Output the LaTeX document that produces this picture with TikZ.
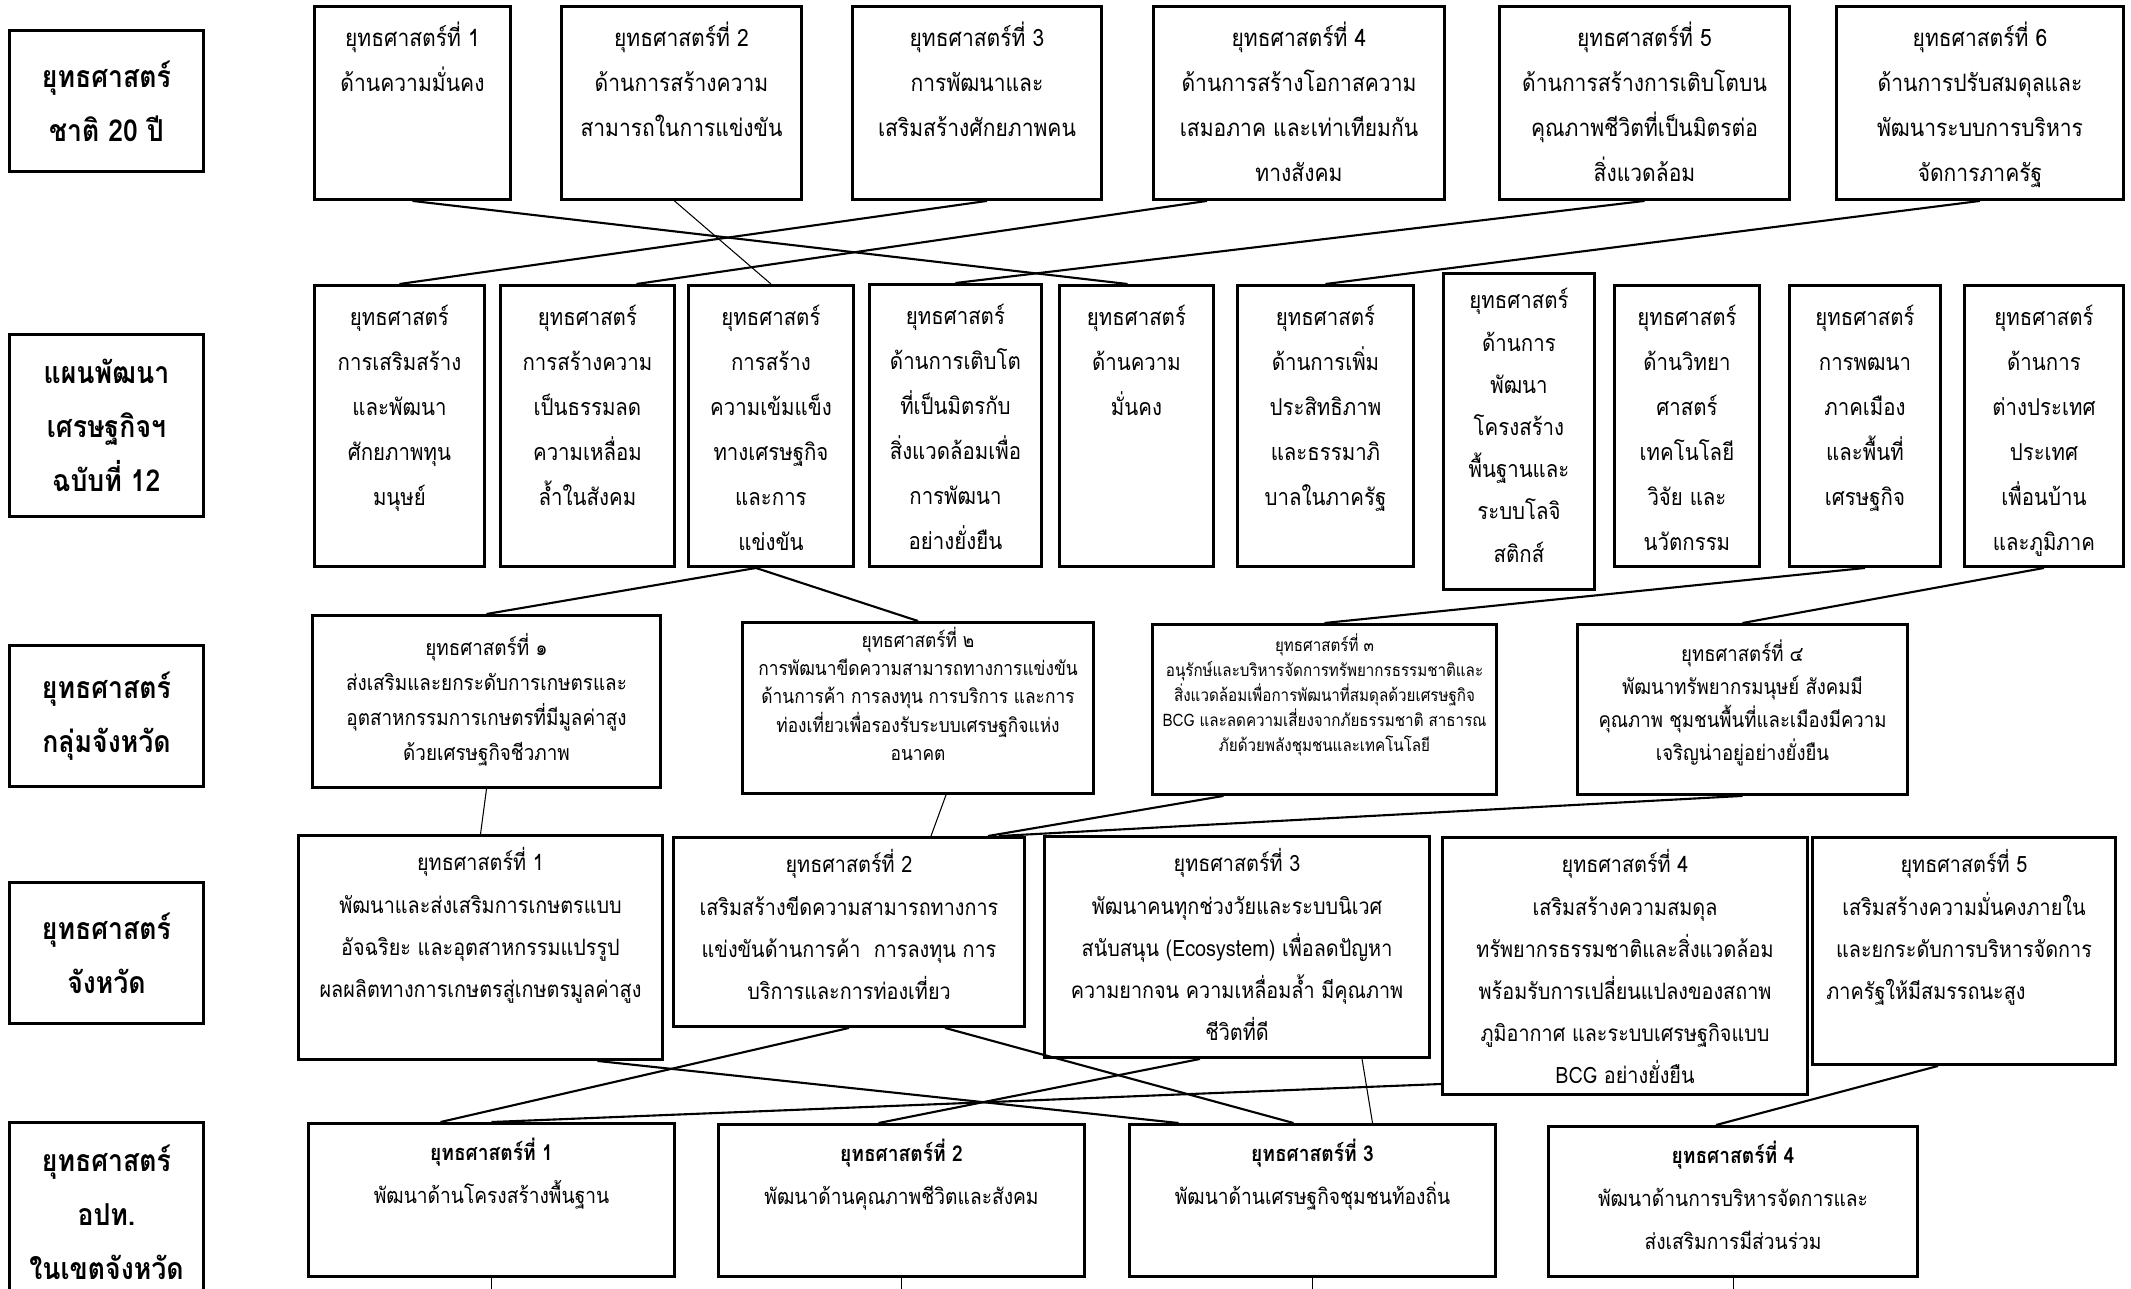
\documentclass[tikz,border=0pt]{standalone}
\usepackage{fontspec}
\setmainfont[Script=Thai, FakeStretch=0.88]{Loma}
\usetikzlibrary{positioning,calc}

% font sizes for each row
\newcommand{\labfont}{\fontsize{8.6}{15.3}\selectfont\bfseries}
\newcommand{\natfont}{\fontsize{6.8}{12.8}\selectfont}
\newcommand{\planfont}{\fontsize{6.6}{12.8}\selectfont}
\newcommand{\planfontb}{\fontsize{6.6}{12}\selectfont}
\newcommand{\grpfonta}{\fontsize{6.1}{10}\selectfont}
\newcommand{\grpfontb}{\fontsize{5.6}{8}\selectfont}
\newcommand{\grpfontc}{\fontsize{4.9}{7.1}\selectfont}
\newcommand{\grpfontd}{\fontsize{6.0}{9.4}\selectfont}
\newcommand{\provfont}{\fontsize{6.4}{12}\selectfont}
\newcommand{\locfont}{\fontsize{6.2}{12.2}\selectfont}

% box with text at the top: [pad]{width}{height}{font}{lines}
\newcommand{\topbox}[5][0.09cm]{\parbox[t][#3][t]{#2}{#4\centering\vspace*{#1}\strut#5}}

\tikzset{
  boxnode/.style={draw, line width=0.8pt, anchor=north west, inner sep=0pt},
  rowlabel/.style={draw, line width=0.8pt, anchor=north west, inner sep=0pt,
    align=center, font=\labfont, minimum width=1.94cm},
  link/.style={line width=0.6pt},
  thinlink/.style={line width=0.3pt}
}

\begin{document}
\begin{tikzpicture}[x=0.01cm, y=-0.01cm]
    \useasboundingbox (0,0) rectangle (2131,1288);

    % row labels
    \node[rowlabel, minimum height=1.41cm] (lab1) at (8,29) {ยุทธศาสตร์\\ชาติ 20 ปี};
    \node[rowlabel, minimum height=1.82cm] (lab2) at (8,333) {แผนพัฒนา\\เศรษฐกิจฯ\\ฉบับที่ 12};
    \node[rowlabel, minimum height=1.41cm] (lab3) at (8,644) {ยุทธศาสตร์\\กลุ่มจังหวัด};
    \node[rowlabel, minimum height=1.41cm] (lab4) at (8,881) {ยุทธศาสตร์\\จังหวัด};
    \node[rowlabel, minimum height=1.80cm] (lab5) at (8,1121) {ยุทธศาสตร์\\อปท.\\ในเขตจังหวัด};

    % national strategy 20 years
    \node[boxnode] (s1) at (313,5) {\topbox{1.96cm}{1.93cm}{\natfont}{ยุทธศาสตร์ที่ 1\\ด้านความมั่นคง}};
    \node[boxnode] (s2) at (560,5) {\topbox{2.40cm}{1.93cm}{\natfont}{ยุทธศาสตร์ที่ 2\\ด้านการสร้างความ\\สามารถในการแข่งขัน}};
    \node[boxnode] (s3) at (851,5) {\topbox{2.49cm}{1.93cm}{\natfont}{ยุทธศาสตร์ที่ 3\\การพัฒนาและ\\เสริมสร้างศักยภาพคน}};
    \node[boxnode] (s4) at (1152,5) {\topbox{2.91cm}{1.93cm}{\natfont}{ยุทธศาสตร์ที่ 4\\ด้านการสร้างโอกาสความ\\เสมอภาค และเท่าเทียมกัน\\ทางสังคม}};
    \node[boxnode] (s5) at (1498,5) {\topbox{2.90cm}{1.93cm}{\natfont}{ยุทธศาสตร์ที่ 5\\ด้านการสร้างการเติบโตบน\\คุณภาพชีวิตที่เป็นมิตรต่อ\\สิ่งแวดล้อม}};
    \node[boxnode] (s6) at (1835,5) {\topbox{2.87cm}{1.93cm}{\natfont}{ยุทธศาสตร์ที่ 6\\ด้านการปรับสมดุลและ\\พัฒนาระบบการบริหาร\\จัดการภาครัฐ}};

    % economic plan no. 12
    \node[boxnode] (p1) at (313,284) {\topbox{1.70cm}{2.81cm}{\planfont}{ยุทธศาสตร์\\การเสริมสร้าง\\และพัฒนา\\ศักยภาพทุน\\มนุษย์}};
    \node[boxnode] (p2) at (499,284) {\topbox{1.74cm}{2.81cm}{\planfont}{ยุทธศาสตร์\\การสร้างความ\\เป็นธรรมลด\\ความเหลื่อม\\ล้ำในสังคม}};
    \node[boxnode] (p3) at (687,284) {\topbox{1.65cm}{2.81cm}{\planfont}{ยุทธศาสตร์\\การสร้าง\\ความเข้มแข็ง\\ทางเศรษฐกิจ\\และการ\\แข่งขัน}};
    \node[boxnode] (p4) at (868,283) {\topbox{1.72cm}{2.82cm}{\planfont}{ยุทธศาสตร์\\ด้านการเติบโต\\ที่เป็นมิตรกับ\\สิ่งแวดล้อมเพื่อ\\การพัฒนา\\อย่างยั่งยืน}};
    \node[boxnode] (p5) at (1058,284) {\topbox{1.54cm}{2.81cm}{\planfont}{ยุทธศาสตร์\\ด้านความ\\มั่นคง}};
    \node[boxnode] (p6) at (1236,284) {\topbox{1.76cm}{2.81cm}{\planfont}{ยุทธศาสตร์\\ด้านการเพิ่ม\\ประสิทธิภาพ\\และธรรมาภิ\\บาลในภาครัฐ}};
    \node[boxnode] (p7) at (1442,272) {\topbox[0.06cm]{1.51cm}{3.16cm}{\planfontb}{ยุทธศาสตร์\\ด้านการ\\พัฒนา\\โครงสร้าง\\พื้นฐานและ\\ระบบโลจิ\\สติกส์}};
    \node[boxnode] (p8) at (1613,284) {\topbox{1.45cm}{2.81cm}{\planfont}{ยุทธศาสตร์\\ด้านวิทยา\\ศาสตร์\\เทคโนโลยี\\วิจัย และ\\นวัตกรรม}};
    \node[boxnode] (p9) at (1788,284) {\topbox{1.51cm}{2.81cm}{\planfont}{ยุทธศาสตร์\\การพฒนา\\ภาคเมือง\\และพื้นที่\\เศรษฐกิจ}};
    \node[boxnode] (p10) at (1963,284) {\topbox{1.59cm}{2.81cm}{\planfont}{ยุทธศาสตร์\\ด้านการ\\ต่างประเทศ\\ประเทศ\\เพื่อนบ้าน\\และภูมิภาค}};

    % province group
    \node[boxnode] (g1) at (311,614) {\topbox[0.15cm]{3.48cm}{1.72cm}{\grpfonta}{ยุทธศาสตร์ที่ ๑\\ส่งเสริมและยกระดับการเกษตรและ\\อุตสาหกรรมการเกษตรที่มีมูลค่าสูง\\ด้วยเศรษฐกิจชีวภาพ}};
    \node[boxnode] (g2) at (741,621) {\topbox[0.05cm]{3.51cm}{1.71cm}{\grpfontb}{ยุทธศาสตร์ที่ ๒\\การพัฒนาขีดความสามารถทางการแข่งขัน\\ด้านการค้า การลงทุน การบริการ และการ\\ท่องเที่ยวเพื่อรองรับระบบเศรษฐกิจแห่ง\\อนาคต}};
    \node[boxnode] (g3) at (1151,623) {\topbox[0.09cm]{3.44cm}{1.70cm}{\grpfontc}{ยุทธศาสตร์ที่ ๓\\อนุรักษ์และบริหารจัดการทรัพยากรธรรมชาติและ\\สิ่งแวดล้อมเพื่อการพัฒนาที่สมดุลด้วยเศรษฐกิจ\\BCG และลดความเสี่ยงจากภัยธรรมชาติ สาธารณ\\ภัยด้วยพลังชุมชนและเทคโนโลยี}};
    \node[boxnode] (g4) at (1576,623) {\topbox[0.14cm]{3.30cm}{1.70cm}{\grpfontd}{ยุทธศาสตร์ที่ ๔\\พัฒนาทรัพยากรมนุษย์ สังคมมี\\คุณภาพ ชุมชนพื้นที่และเมืองมีความ\\เจริญน่าอยู่อย่างยั่งยืน}};

    % province
    \node[boxnode] (v1) at (297,834) {\topbox[0.06cm]{3.64cm}{2.24cm}{\provfont}{ยุทธศาสตร์ที่ 1\\พัฒนาและส่งเสริมการเกษตรแบบ\\อัจฉริยะ และอุตสาหกรรมแปรรูป\\ผลผลิตทางการเกษตรสู่เกษตรมูลค่าสูง}};
    \node[boxnode] (v2) at (672,836) {\topbox[0.06cm]{3.51cm}{1.89cm}{\provfont}{ยุทธศาสตร์ที่ 2\\เสริมสร้างขีดความสามารถทางการ\\แข่งขันด้านการค้า~~การลงทุน การ\\บริการและการท่องเที่ยว}};
    \node[boxnode] (v3) at (1043,835) {\topbox[0.06cm]{3.85cm}{2.21cm}{\provfont}{ยุทธศาสตร์ที่ 3\\พัฒนาคนทุกช่วงวัยและระบบนิเวศ\\สนับสนุน (Ecosystem) เพื่อลดปัญหา\\ความยากจน ความเหลื่อมล้ำ มีคุณภาพ\\ชีวิตที่ดี}};
    \node[boxnode] (v4) at (1441,836) {\topbox[0.06cm]{3.65cm}{2.57cm}{\provfont}{ยุทธศาสตร์ที่ 4\\เสริมสร้างความสมดุล\\ทรัพยากรธรรมชาติและสิ่งแวดล้อม\\พร้อมรับการเปลี่ยนแปลงของสถาพ\\ภูมิอากาศ และระบบเศรษฐกิจแบบ\\BCG อย่างยั่งยืน}};
    \node[boxnode] (v5) at (1811,836) {\topbox[0.06cm]{3.03cm}{2.27cm}{\provfont}{ยุทธศาสตร์ที่ 5\\เสริมสร้างความมั่นคงภายใน\\และยกระดับการบริหารจัดการ\\\hspace*{0.14cm}ภาครัฐให้มีสมรรถนะสูง\hfill\null}};

    % local government
    \node[boxnode] (d1) at (307,1122) {\topbox[0.07cm]{3.66cm}{1.53cm}{\locfont}{\textbf{ยุทธศาสตร์ที่ 1}\\พัฒนาด้านโครงสร้างพื้นฐาน}};
    \node[boxnode] (d2) at (717,1123) {\topbox[0.07cm]{3.66cm}{1.52cm}{\locfont}{\textbf{ยุทธศาสตร์ที่ 2}\\พัฒนาด้านคุณภาพชีวิตและสังคม}};
    \node[boxnode] (d3) at (1128,1123) {\topbox[0.07cm]{3.66cm}{1.52cm}{\locfont}{\textbf{ยุทธศาสตร์ที่ 3}\\พัฒนาด้านเศรษฐกิจชุมชนท้องถิ่น}};
    \node[boxnode] (d4) at (1547,1125) {\topbox[0.07cm]{3.69cm}{1.50cm}{\locfont}{\textbf{ยุทธศาสตร์ที่ 4}\\พัฒนาด้านการบริหารจัดการและ\\ส่งเสริมการมีส่วนร่วม}};

    % national -> plan
    \draw[link] (s1.south) -- ($(p5.north)+(-9,0)$);
    \draw[thinlink] ($(s2.south)+(-7,0)$) -- (p3.north);
    \draw[link] ($(s3.south)+(10,0)$) -- (p1.north);
    \draw[link] ($(s4.south)+(-92,0)$) -- ($(p2.north)+(49,0)$);
    \draw[link] (s5.south) -- (p4.north);
    \draw[link] (s6.south) -- (p6.north);

    % plan -> province group
    \draw[link] ($(p3.south)+(-15,0)$) -- (g1.north);
    \draw[link] ($(p3.south)+(-15,0)$) -- (g2.north);
    \draw[link] (p9.south) -- (g3.north);
    \draw[link] (p10.south) -- (g4.north);

    % province group -> province
    \draw[thinlink] (g1.south) -- (v1.north);
    \draw[thinlink] ($(g2.south)+(28,0)$) -- ($(v2.north)+(82,0)$);
    \draw[link] ($(g3.south)+(-101,0)$) -- ($(v2.north east)+(-38,0)$);
    \draw[link] (g4.south) -- ($(v2.north east)+(-27,0)$);

    % province -> local government
    \draw[link] ($(v1.south)+(117,0)$) -- ($(d3.north)+(-134,0)$);
    \draw[link] (v2.south) -- ($(d1.north)+(-51,0)$);
    \draw[link] ($(v2.south)+(96,0)$) -- ($(d3.north)+(-19,0)$);
    \draw[link] ($(v3.south)+(-37,0)$) -- ($(d2.north)+(-23,0)$);
    \draw[thinlink] ($(v3.south)+(125,0)$) -- ($(d3.north)+(60,0)$);
    \draw[link] ($(v4.west)+(0,118)$) -- (d1.north);
    \draw[link] ($(v5.south)+(-26,0)$) -- ($(d4.north)+(-17,0)$);

    % stubs below
    \coordinate[below=0.2cm of d1.south] (d1end);
    \coordinate[below=0.2cm of d2.south] (d2end);
    \coordinate[below=0.2cm of d3.south] (d3end);
    \coordinate[below=0.2cm of d4.south] (d4end);
    \draw[thinlink] (d1.south) -- (d1end);
    \draw[thinlink] (d2.south) -- (d2end);
    \draw[thinlink] (d3.south) -- (d3end);
    \draw[thinlink] (d4.south) -- (d4end);
\end{tikzpicture}
\end{document}
